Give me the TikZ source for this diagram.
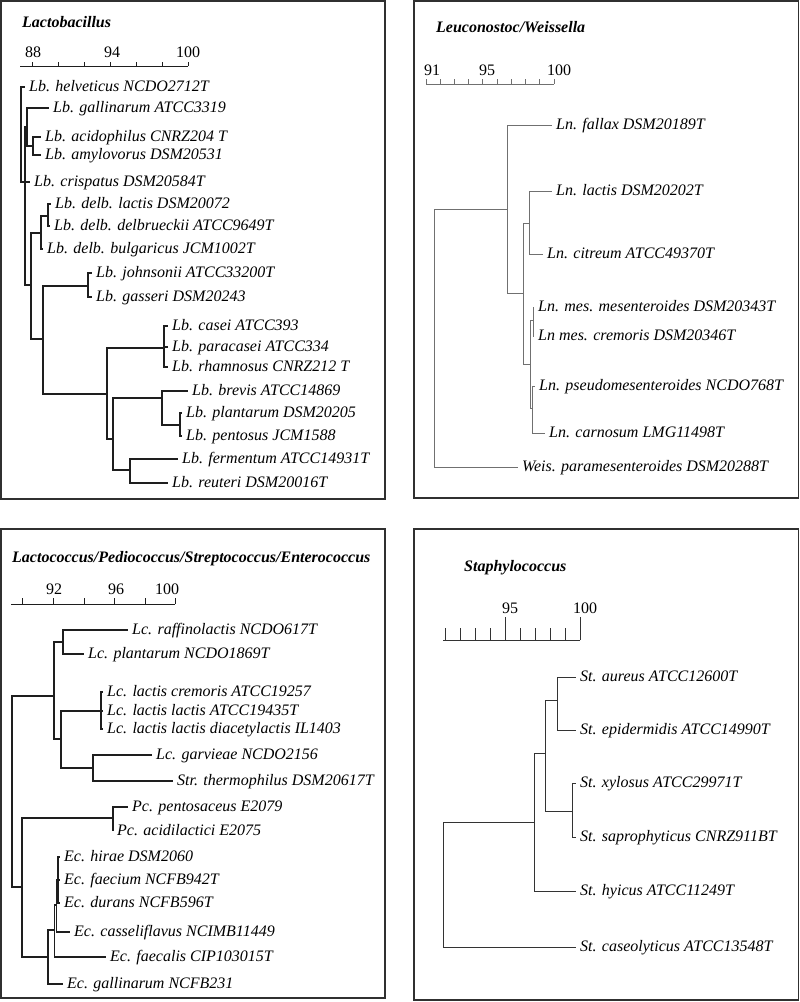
\documentclass[tikz,border=0pt]{standalone}
\usepackage{fontspec}
\setmainfont{Liberation Serif}
\definecolor{frameC}{HTML}{303030}
\definecolor{treeA}{HTML}{1E1E1E}
\definecolor{treeB}{HTML}{707070}
\definecolor{treeD}{HTML}{333333}
\tikzset{
  frame/.style={draw=frameC, line width=1.4pt},
  tree1/.style={draw=treeA, line width=1.3pt},
  tree2/.style={draw=treeB, line width=0.8pt},
  tree4/.style={draw=treeD, line width=1pt},
  axisline/.style={draw=treeA, line width=1pt},
  leaf/.style={anchor=west, inner xsep=4pt, inner ysep=0pt, text height=8pt, text depth=0pt,
    font=\fontsize{16}{19}\selectfont\itshape},
  ttl/.style={anchor=base west, inner sep=0pt, font=\fontsize{16}{19}\selectfont\bfseries\itshape},
  scl/.style={anchor=base, inner sep=0pt, font=\fontsize{16}{19}\selectfont}
}
\begin{document}
\begin{tikzpicture}[x=1pt,y=-1pt]
\useasboundingbox (0,0) rectangle (800,1002);
% frames
\draw[frame] (1,1) rectangle (385,499);
\draw[frame] (414,1) rectangle (798.5,498);
\draw[frame] (1,529) rectangle (385,998);
\draw[frame] (414,529) rectangle (798.5,1000);

% ================= Panel 1: Lactobacillus =================
\node[ttl] (t1) at (22,27) {Lactobacillus};
\node[scl] (s1a) at (33,57) {88};
\node[scl] (s1b) at (112,57) {94};
\node[scl] (s1c) at (188,57) {100};
\coordinate (ax1a) at (20,66);
\coordinate (ax1b) at (188,66);
\draw[axisline] (ax1a) -- (ax1b);
\foreach \x in {32,58,84,110,136,162,188} \draw[axisline] (\x,66) -- (\x,62);

\coordinate (R1) at (21,134);
\coordinate (A1) at (25,182);
\coordinate (B1) at (27,127);
\coordinate (D1) at (33,146);
\coordinate (C1) at (31,285);
\coordinate (E1) at (41,233);
\coordinate (F1) at (48,216);
\coordinate (H1) at (43,339);
\coordinate (G1) at (88,286);
\coordinate (J1) at (107,394);
\coordinate (I1) at (164,348);
\coordinate (N1) at (113,439);
\coordinate (K1) at (162,398);
\coordinate (L1) at (180,425);
\coordinate (M1) at (130,470);

\node[leaf] (helv) at (25,87) {Lb. helveticus NCDO2712T};
\node[leaf] (gall) at (49,108) {Lb. gallinarum ATCC3319};
\node[leaf] (acid) at (41,137) {Lb. acidophilus CNRZ204 T};
\node[leaf] (amyl) at (41,155) {Lb. amylovorus DSM20531};
\node[leaf] (cris) at (30,182) {Lb. crispatus DSM20584T};
\node[leaf] (dlac) at (51,204) {Lb. delb. lactis DSM20072};
\node[leaf] (ddel) at (50,226) {Lb. delb. delbrueckii ATCC9649T};
\node[leaf] (dbul) at (43,249) {Lb. delb. bulgaricus JCM1002T};
\node[leaf] (john) at (92,273) {Lb. johnsonii ATCC33200T};
\node[leaf] (gass) at (92,297) {Lb. gasseri DSM20243};
\node[leaf] (case) at (168,326) {Lb. casei ATCC393};
\node[leaf] (para) at (168,347) {Lb. paracasei ATCC334};
\node[leaf] (rham) at (168,367) {Lb. rhamnosus CNRZ212 T};
\node[leaf] (brev) at (188,391) {Lb. brevis ATCC14869};
\node[leaf] (plan) at (182,413) {Lb. plantarum DSM20205};
\node[leaf] (pent) at (182,436) {Lb. pentosus JCM1588};
\node[leaf] (ferm) at (178,459) {Lb. fermentum ATCC14931T};
\node[leaf] (reut) at (168,483) {Lb. reuteri DSM20016T};

\draw[tree1] (R1) |- (helv.west) (R1) |- (A1)
  (A1) |- (B1) (A1) |- (cris.west) (A1) |- (C1)
  (B1) |- (gall.west) (B1) |- (D1)
  (D1) |- (acid.west) (D1) |- (amyl.west)
  (C1) |- (E1) (C1) |- (H1)
  (E1) |- (F1) (E1) |- (dbul.west)
  (F1) |- (dlac.west) (F1) |- (ddel.west)
  (H1) |- (G1) (H1) |- (J1)
  (G1) |- (john.west) (G1) |- (gass.west)
  (J1) |- (I1) (J1) |- (N1)
  (I1) |- (case.west) (I1) |- (para.west) (I1) |- (rham.west)
  (N1) |- (K1) (N1) |- (M1)
  (K1) |- (brev.west) (K1) |- (L1)
  (L1) |- (plan.west) (L1) |- (pent.west)
  (M1) |- (ferm.west) (M1) |- (reut.west);

% ================= Panel 2: Leuconostoc/Weissella =================
\node[ttl] (t2) at (436,32) {Leuconostoc/Weissella};
\node[scl] (s2a) at (432,75) {91};
\node[scl] (s2b) at (487,75) {95};
\node[scl] (s2c) at (559,75) {100};
\coordinate (ax2a) at (426,84);
\coordinate (ax2b) at (554,84);
\draw[tree2] (ax2a) -- (ax2b);
\foreach \i in {0,...,9} \draw[tree2] (426+14.222*\i,84) -- (426+14.222*\i,79);

\coordinate (R2) at (434,338);
\coordinate (S2) at (507,209);
\coordinate (T2) at (523,293);
\coordinate (Q2) at (529,223);
\coordinate (MP2) at (530,364);
\coordinate (M2) at (533,320);
\coordinate (P2) at (532,408);

\node[leaf] (fall) at (552,125) {Ln. fallax DSM20189T};
\node[leaf] (llac) at (552,191) {Ln. lactis DSM20202T};
\node[leaf] (citr) at (543,254) {Ln. citreum ATCC49370T};
\node[leaf] (mmes) at (534,307) {Ln. mes. mesenteroides DSM20343T};
\node[leaf] (mcre) at (534,336) {Ln mes. cremoris DSM20346T};
\node[leaf] (pseu) at (535,386) {Ln. pseudomesenteroides NCDO768T};
\node[leaf] (carn) at (545,433) {Ln. carnosum LMG11498T};
\node[leaf] (weis) at (518,467) {Weis. paramesenteroides DSM20288T};

\draw[tree2] (R2) |- (S2) (R2) |- (weis.west)
  (S2) |- (fall.west) (S2) |- (T2)
  (T2) |- (Q2) (T2) |- (MP2)
  (Q2) |- (llac.west) (Q2) |- (citr.west)
  (MP2) |- (M2) (MP2) |- (P2)
  (M2) |- (mmes.west) (M2) |- (mcre.west)
  (P2) |- (pseu.west) (P2) |- (carn.west);

% ================= Panel 3: Lactococcus/... =================
\node[ttl] (t3) at (12,562) {Lactococcus/Pediococcus/Streptococcus/Enterococcus};
\node[scl] (s3a) at (54,594) {92};
\node[scl] (s3b) at (116,594) {96};
\node[scl] (s3c) at (167,594) {100};
\coordinate (ax3a) at (11,604);
\coordinate (ax3b) at (175,604);
\draw[axisline] (ax3a) -- (ax3b);
\foreach \x in {22,53,84,114,145,175} \draw[axisline] (\x,604) -- (\x,598);

\coordinate (R3) at (12,790);
\coordinate (U3) at (54,696);
\coordinate (LcA) at (63,642);
\coordinate (W3) at (61,739);
\coordinate (LcL) at (101,711);
\coordinate (LcG) at (93,768);
\coordinate (V3) at (22,887);
\coordinate (Pc3) at (113,818);
\coordinate (EcD) at (48,957);
\coordinate (EcC) at (54.5,930);
\coordinate (EcB) at (56.5,905);
\coordinate (EcA) at (58,880);

\node[leaf] (raff) at (128,630) {Lc. raffinolactis NCDO617T};
\node[leaf] (lpla) at (84,654) {Lc. plantarum NCDO1869T};
\node[leaf] (lcre) at (103,692) {Lc. lactis cremoris ATCC19257};
\node[leaf] (llla) at (103,711) {Lc. lactis lactis ATCC19435T};
\node[leaf] (ldia) at (103,729) {Lc. lactis lactis diacetylactis IL1403};
\node[leaf] (garv) at (152,755) {Lc. garvieae NCDO2156};
\node[leaf] (ther) at (173,781) {Str. thermophilus DSM20617T};
\node[leaf] (pent3) at (128,807) {Pc. pentosaceus E2079};
\node[leaf] (acil) at (113,831) {Pc. acidilactici E2075};
\node[leaf] (hira) at (60,857) {Ec. hirae DSM2060};
\node[leaf] (faem) at (60,880) {Ec. faecium NCFB942T};
\node[leaf] (dura) at (60,903) {Ec. durans NCFB596T};
\node[leaf] (cass) at (70,932) {Ec. casseliflavus NCIMB11449};
\node[leaf] (faes) at (106,957) {Ec. faecalis CIP103015T};
\node[leaf] (ecga) at (63,984) {Ec. gallinarum NCFB231};

\draw[tree1] (R3) |- (U3) (R3) |- (V3)
  (U3) |- (LcA) (U3) |- (W3)
  (LcA) |- (raff.west) (LcA) |- (lpla.west)
  (W3) |- (LcL) (W3) |- (LcG)
  (LcL) |- (lcre.west) (LcL) |- (llla.west) (LcL) |- (ldia.west)
  (LcG) |- (garv.west) (LcG) |- (ther.west)
  (V3) |- (Pc3) (V3) |- (EcD)
  (Pc3) |- (pent3.west) (Pc3) |- (acil.west)
  (EcD) |- (EcC) (EcD) |- (ecga.west)
  (EcC) |- (EcB) (EcC) |- (faes.west)
  (EcB) |- (EcA) (EcB) |- (cass.west)
  (EcA) |- (hira.west) (EcA) |- (faem.west) (EcA) |- (dura.west);

% ================= Panel 4: Staphylococcus =================
\node[ttl] (t4) at (464,571) {Staphylococcus};
\node[scl] (s4a) at (510,613) {95};
\node[scl] (s4b) at (585,613) {100};
\coordinate (ax4a) at (443,640);
\coordinate (ax4b) at (580,640);
\draw[tree4] (ax4a) -- (ax4b);
\foreach \i in {0,1,2,3,5,6,7,8} \draw[tree4] (445+15*\i,640) -- (445+15*\i,628);
\foreach \i in {4,9} \draw[tree4] (445+15*\i,640) -- (445+15*\i,617);

\coordinate (R4) at (443,885);
\coordinate (SH) at (534,822);
\coordinate (SB) at (545,753);
\coordinate (SA) at (557,700);
\coordinate (SX) at (572,811);

\node[leaf] (aure) at (576,677) {St. aureus ATCC12600T};
\node[leaf] (epid) at (576,730) {St. epidermidis ATCC14990T};
\node[leaf] (xylo) at (576,783) {St. xylosus ATCC29971T};
\node[leaf] (sapr) at (576,837) {St. saprophyticus CNRZ911BT};
\node[leaf] (hyic) at (576,891) {St. hyicus ATCC11249T};
\node[leaf] (caso) at (576,947) {St. caseolyticus ATCC13548T};

\draw[tree4] (R4) |- (SH) (R4) |- (caso.west)
  (SH) |- (SB) (SH) |- (hyic.west)
  (SB) |- (SA) (SB) |- (SX)
  (SA) |- (aure.west) (SA) |- (epid.west)
  (SX) |- (xylo.west) (SX) |- (sapr.west);
\end{tikzpicture}
\end{document}
